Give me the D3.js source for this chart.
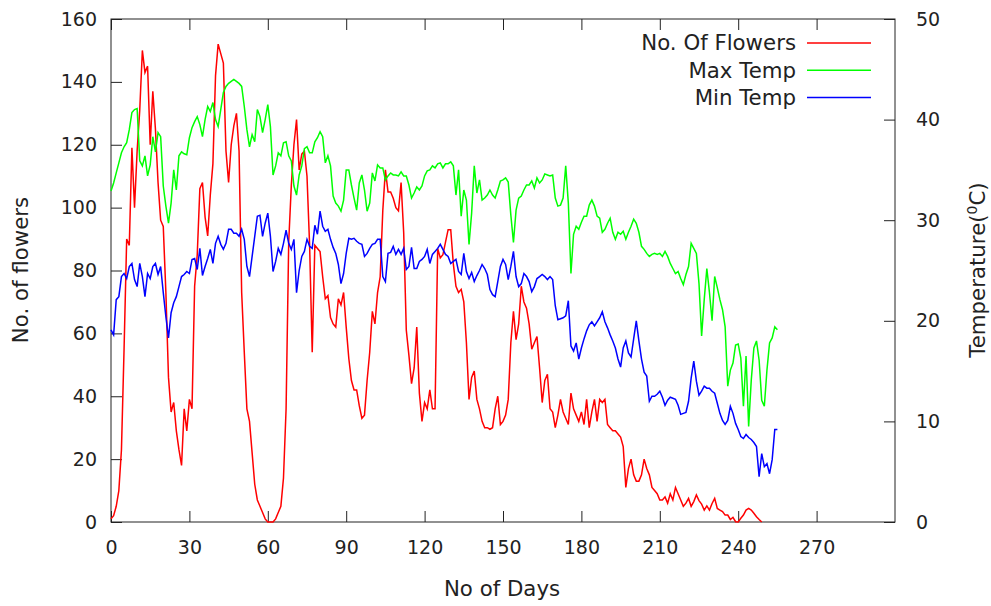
<!DOCTYPE html>
<html>
<head>
<meta charset="utf-8">
<script src="https://cdn.jsdelivr.net/npm/d3@7"></script>
<style>
  body { margin: 0; background: #fff; }
  text { font-family: "DejaVu Sans", sans-serif; fill: #222; }
</style>
</head>
<body>
<div id="chart"></div>
<script>
// x ticks (days)
const dayTicks = [0, 30, 60, 90, 120, 150, 180, 210, 240, 270];
const flowerTicks = [0, 20, 40, 60, 80, 100, 120, 140, 160];
const tempTicks = [0, 10, 20, 30, 40, 50];

// daily values, index = day
const flowers = [
  1, 2, 5, 10, 23, 55, 90, 88, 119, 100,
  118, 131, 150, 143, 145, 120, 137, 125, 108, 96,
  94, 73, 46, 35, 38, 29, 23, 18, 36, 29,
  39, 36, 75, 85, 106, 108, 97, 91, 104, 114,
  142, 152, 149, 146, 118, 108, 120, 126, 130, 118,
  73, 54, 36, 32, 22, 12, 7, 5, 3, 1,
  0, 0, 0, 1, 3, 5, 14, 36, 89, 107,
  120, 128, 112, 117, 118, 110, 88, 54, 88, 87,
  86, 78, 71, 72, 65, 63, 62, 71, 69, 73,
  62, 52, 45, 42, 42, 37, 33, 34, 45, 54,
  67, 63, 73, 78, 99, 112, 105, 105, 103, 100,
  99, 108, 92, 61, 53, 44, 49, 62, 41, 32,
  38, 36, 42, 36, 36, 87, 84, 85, 89, 93,
  93, 82, 75, 73, 74, 70, 57, 39, 46, 48,
  39, 36, 32, 30, 30, 29.5, 30, 36, 40, 31,
  32, 34, 39, 57, 67, 58, 63, 75, 70, 68,
  63, 55, 57, 59, 49, 38, 45, 47, 36, 35,
  30, 34, 39, 35, 33, 31, 41, 36, 34, 32,
  35, 31, 39, 30, 35, 39, 32, 39, 38, 39,
  31, 30, 29, 29, 28, 27, 24, 11, 17, 20,
  15, 13, 13, 15, 20, 17, 15, 11, 10, 9,
  7, 7, 8, 6, 9, 7, 11, 9, 7, 5,
  6, 7.5, 5, 6.5, 8.6, 6.8, 5.7, 3.8, 5.1, 3.8,
  5.9, 7.5, 4.3, 3.8, 3.3, 2.2, 2.2, 0.8, 1.5, 0.1,
  0, 1.2, 2.2, 3.8, 4.3, 3.8, 2.8, 1.7, 0.8, 0
];

const maxTemp = [
  32.9, 33.7, 34.7, 35.7, 36.7, 37.3, 37.7, 39, 40.7, 41,
  41.1, 35.9, 35.4, 36.4, 34.4, 35.5, 38.3, 36.8, 38.7, 38.3,
  33.4, 31.4, 29.7, 31.7, 35, 33, 36.4, 36.8, 36.6, 36.5,
  38.2, 39.2, 39.8, 40.3, 39.5, 38.3, 40, 41.3, 40.8, 41.7,
  40, 39.3, 41, 42.7, 43.3, 43.6, 43.8, 44, 43.8, 43.6,
  43.3, 41.3, 39, 37.3, 38.5, 37.8, 41, 40.3, 38.7, 40,
  41.5, 39.3, 34.5, 35.4, 36.7, 36.4, 37.7, 37.8, 36.4, 35.9,
  33.4, 32.5, 34.5, 35.4, 37.1, 37.3, 36.7, 36.7, 37.8, 38.2,
  38.8, 38.3, 35.7, 36.4, 35.4, 32.4, 31.7, 31.4, 30.9, 32,
  35, 35, 33.5, 32.2, 31, 33.7, 34.5, 33, 30.9, 31.7,
  34.7, 33.9, 35.5, 35.2, 35.2, 34, 34.4, 34.7, 34.5, 34.5,
  34.4, 34.8, 34.4, 34.4, 33.5, 32.2, 32.7, 33.3, 33, 33.4,
  34.4, 34.9, 35, 35.4, 35.2, 35.6, 35.7, 35.2, 35.6, 35.6,
  35.8, 35.4, 32.5, 35, 30.4, 33, 32, 27.6, 30.7, 35.4,
  32.7, 34, 32, 32.2, 32.5, 33, 32.5, 32.2, 33, 33.9,
  34, 34.2, 33.8, 30.5, 27.8, 31, 32.2, 32.4, 33, 33.5,
  33.5, 33.9, 33.2, 34.2, 33.7, 34, 34.6, 34.5, 34.4, 34.5,
  32.2, 31.4, 31.5, 32.2, 35.4, 31.7, 24.7, 28.6, 29.4, 29.1,
  29.8, 30.4, 30.4, 31.5, 32, 31.4, 30.4, 30.2, 28.8, 29.1,
  29.7, 30.2, 28.8, 28.1, 28.8, 28.6, 28.9, 28.1, 28.8, 29.4,
  30.1, 29.7, 28.8, 27.4, 27.1, 26.7, 26.4, 26.6, 26.7, 26.6,
  26.7, 26.4, 26.9, 26.4, 25.7, 25.2, 24.7, 24.9, 24.2, 23.6,
  24.6, 25.4, 27.7, 27.2, 26.7, 23.7, 18.5, 22.1, 25.2, 22.8,
  20, 24.4, 23.3, 22.1, 21.1, 19.4, 13.5, 15.1, 15.8, 17.6,
  17.7, 16.3, 11.5, 16.5, 9.5, 14.1, 17.3, 18, 16.1, 12.1,
  11.5, 15.1, 17.8, 18.3, 19.4, 19.1
];

const minTemp = [
  19.1, 18.6, 22.1, 22.4, 24.4, 24.7, 24.2, 25.4, 25.7, 24.1,
  23.4, 25.7, 24.4, 22.4, 24.7, 24.2, 25.4, 25.7, 24.6, 25.4,
  22.8, 20.4, 18.3, 20.8, 21.8, 22.4, 23.4, 24.4, 24.6, 24.9,
  24.7, 26.1, 26.2, 25.1, 27.2, 24.5, 25.4, 26.2, 27.1, 25.7,
  27.7, 28.4, 27.6, 27.1, 27.7, 29.1, 29.1, 28.7, 28.7, 28.4,
  29.1, 28.1, 25.4, 24.4, 26.4, 28.4, 30.4, 30.5, 28.4, 29.7,
  30.7, 28.4, 24.9, 25.9, 27.2, 26.6, 27.7, 29, 27.7, 27.1,
  28.1, 22.8, 25, 26.4, 26.9, 28.1, 27.4, 27.2, 29.5, 28.6,
  30.9, 29.4, 28.9, 29.1, 28.1, 27.3, 26.7, 25.6, 23.7, 24.7,
  26.7, 28.2, 28.1, 28.2, 27.9, 27.7, 27.6, 26.4, 26.7, 27.2,
  27.6, 27.7, 28.1, 28.1, 24.4, 23.9, 26.7, 26.8, 27.4, 26.6,
  27.1, 26.6, 27.2, 25.1, 25.4, 27.3, 25.2, 25.2, 25.9, 26.1,
  26.4, 27.1, 25.7, 26.6, 26.9, 27.2, 27.6, 27.1, 26.6, 26.4,
  25.7, 25.9, 26.1, 24.9, 24.6, 26.7, 24.9, 24.2, 24.8, 23.9,
  24.5, 25, 25.6, 25.2, 24.6, 23.1, 22.6, 22.4, 23.9, 25.4,
  26.1, 25.6, 24.1, 25.4, 26.9, 24.4, 23.4, 23.7, 24.7, 24.4,
  23.9, 22.9, 23.4, 24.2, 24.4, 24.6, 24.4, 24.1, 24.4, 24.1,
  21.5, 20.1, 20.2, 20.3, 20.5, 22, 17.5, 17, 17.8, 16.2,
  17.3, 18.2, 19, 19.6, 19.9, 19.5, 19.9, 20.3, 20.9, 19.9,
  19.3, 18.6, 18, 17.3, 16.2, 15.4, 17.3, 18, 16.8, 16.4,
  18.2, 20, 18, 16.2, 14.9, 14.5, 12, 12.5, 12.5, 12.7,
  13, 12.4, 11.6, 12.1, 12.4, 12.3, 12.2, 11.6, 10.7, 10.8,
  10.9, 12, 14.3, 16, 14, 12.6, 13, 13.5, 13.3, 13.3,
  13, 12.8, 11.8, 10.8, 10.1, 9.7, 10.1, 11.5, 10.8, 9.8,
  9.2, 8.5, 8.3, 8.7, 8.4, 8.2, 7.9, 7.5, 4.5, 6.8,
  5.5, 5.8, 4.8, 6.2, 9.2, 9.2
];

const legendNames = ['No. Of Flowers', 'Max Temp', 'Min Temp'];
const colors = ['#ff0000', '#00ff00', '#0000ff'];

const W = 991, H = 606;
const plot = { left: 111, right: 895, top: 19, bottom: 522 };

const svg = d3.select('#chart').append('svg')
  .attr('width', W).attr('height', H);

const x = d3.scaleLinear().domain([0, 300]).range([plot.left, plot.right]);
const yL = d3.scaleLinear().domain([0, 160]).range([plot.bottom, plot.top]);
const yR = d3.scaleLinear().domain([0, 50]).range([plot.bottom, plot.top]);

// axes, ticks pointing inward like gnuplot
function styleAxis(g) {
  g.select('.domain').remove();
  g.selectAll('.tick line').attr('stroke', '#222').attr('stroke-width', 1);
  g.selectAll('.tick text').style('font-size', '19px').attr('fill', '#222');
}

svg.append('g')
  .attr('transform', `translate(0,${plot.bottom})`)
  .call(d3.axisBottom(x).tickValues(dayTicks).tickSize(-11).tickPadding(19))
  .call(styleAxis);

svg.append('g')
  .attr('transform', `translate(0,${plot.top})`)
  .call(d3.axisTop(x).tickValues(dayTicks).tickSize(-11).tickFormat(''))
  .call(styleAxis);

svg.append('g')
  .attr('transform', `translate(${plot.left},0)`)
  .call(d3.axisLeft(yL).tickValues(flowerTicks).tickSize(-11).tickPadding(14))
  .call(styleAxis);

svg.append('g')
  .attr('transform', `translate(${plot.right},0)`)
  .call(d3.axisRight(yR).tickValues(tempTicks).tickSize(-11).tickPadding(21))
  .call(styleAxis);

// frame
svg.append('rect')
  .attr('x', plot.left).attr('y', plot.top)
  .attr('width', plot.right - plot.left).attr('height', plot.bottom - plot.top)
  .attr('fill', 'none').attr('stroke', '#222').attr('stroke-width', 1);

// series
const lineL = d3.line().x((d, i) => x(i)).y(d => yL(d));
const lineR = d3.line().x((d, i) => x(i)).y(d => yR(d));

svg.append('path').datum(flowers)
  .attr('d', lineL).attr('fill', 'none')
  .attr('stroke', colors[0]).attr('stroke-width', 1.5);
svg.append('path').datum(maxTemp)
  .attr('d', lineR).attr('fill', 'none')
  .attr('stroke', colors[1]).attr('stroke-width', 1.5);
svg.append('path').datum(minTemp)
  .attr('d', lineR).attr('fill', 'none')
  .attr('stroke', colors[2]).attr('stroke-width', 1.5);

// legend
const legend = svg.append('g');
legendNames.forEach((name, i) => {
  const ly = 43 + i * 27.3;
  legend.append('text')
    .attr('x', 796).attr('y', ly).attr('dy', '0.35em')
    .attr('text-anchor', 'end').style('font-size', '21.3px')
    .text(name);
  legend.append('line')
    .attr('x1', 807).attr('x2', 871).attr('y1', ly).attr('y2', ly)
    .attr('stroke', colors[i]).attr('stroke-width', 1.5);
});

// axis titles
svg.append('text')
  .attr('x', 502).attr('y', 589).attr('dy', '0.35em')
  .attr('text-anchor', 'middle').style('font-size', '21.3px')
  .text('No of Days');

svg.append('text')
  .attr('transform', 'translate(21,270) rotate(-90)')
  .attr('dy', '0.35em').attr('text-anchor', 'middle').style('font-size', '21.3px')
  .text('No. of flowers');

const rt = svg.append('text')
  .attr('transform', 'translate(978,270) rotate(-90)')
  .attr('dy', '0.35em').attr('text-anchor', 'middle').style('font-size', '21.3px');
rt.append('tspan').text('Temperature(');
rt.append('tspan').attr('baseline-shift', 'super').style('font-size', '14px').text('0');
rt.append('tspan').text('C)');
</script>
</body>
</html>
